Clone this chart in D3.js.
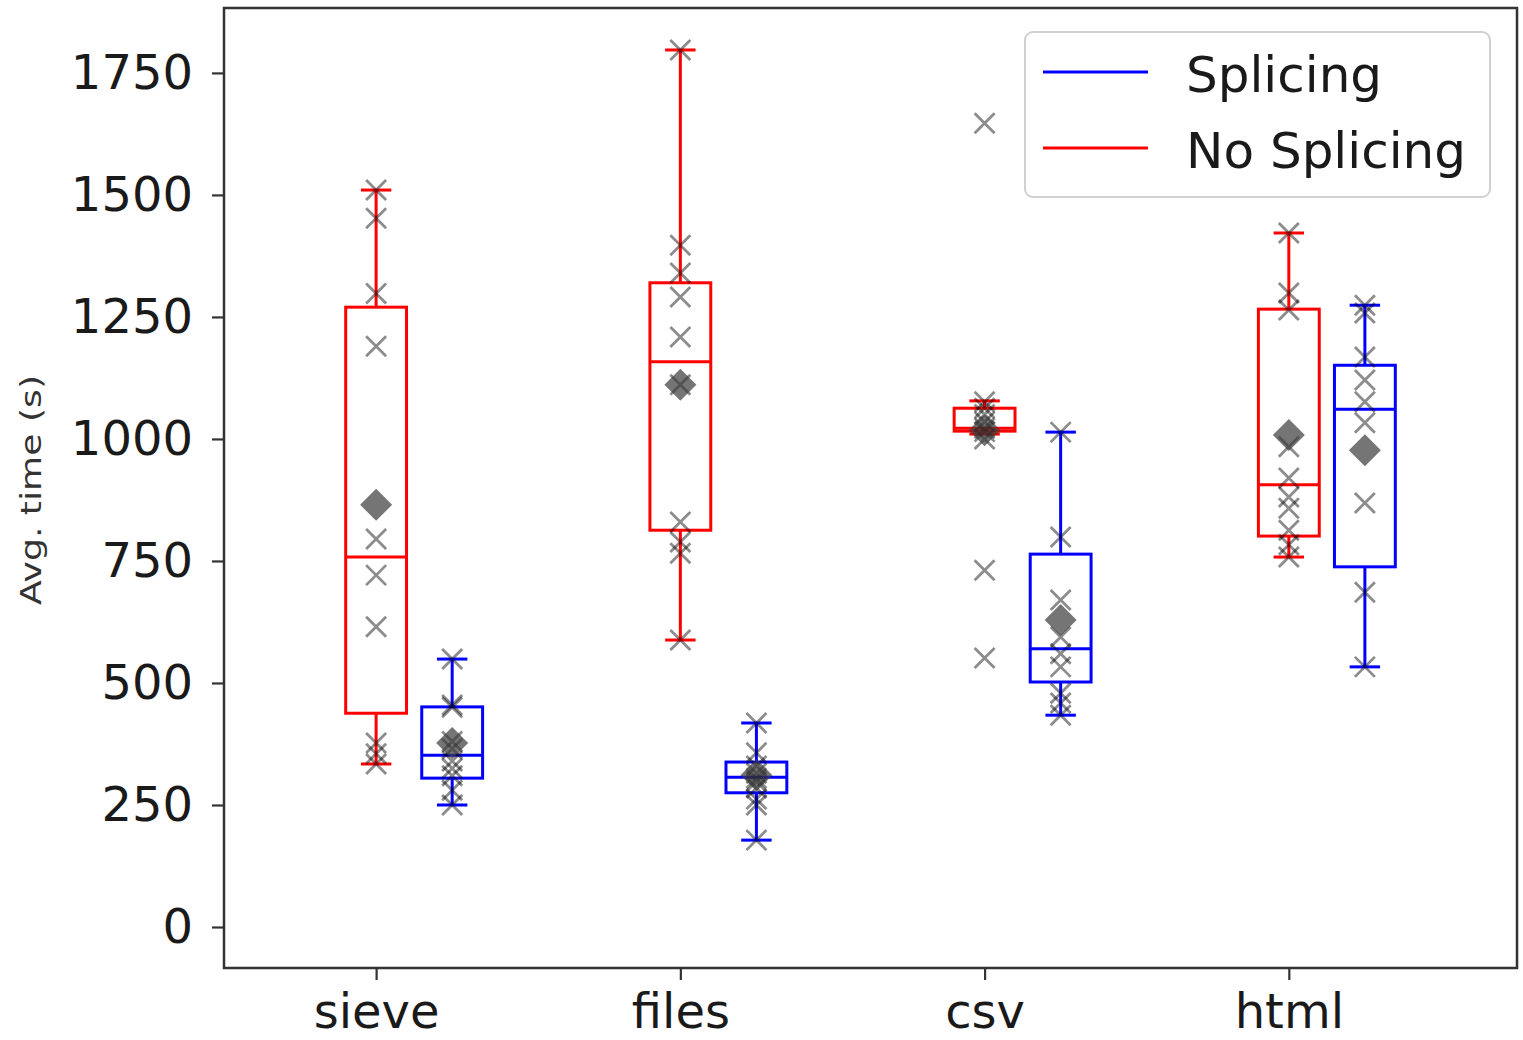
<!DOCTYPE html>
<html>
<head>
<meta charset="utf-8">
<script src="https://cdn.jsdelivr.net/npm/d3@7"></script>
<style>
  html, body { margin: 0; padding: 0; background: #fff; }
  svg { display: block; }
</style>
</head>
<body>
<svg id="chart" width="1523" height="1040"></svg>
<script>
// ---------------- data ----------------
const categories = ["sieve", "files", "csv", "html"];
const seriesNames = ["Splicing", "No Splicing"];
const yTicks = [0, 250, 500, 750, 1000, 1250, 1500, 1750];

// box statistics: [whiskerLow, q1, median, q3, whiskerHigh]
const noSplicingBoxes = [
  [334, 438, 758, 1270, 1510],
  [588, 813, 1158, 1320, 1797],
  [1010, 1016, 1022, 1063, 1078],
  [758, 801, 906, 1266, 1422]
];
const splicingBoxes = [
  [250, 305, 352, 451, 549],
  [178, 275, 307, 338, 418],
  [434, 502, 570, 764, 1014],
  [533, 738, 1061, 1151, 1274]
];
// means (diamonds)
const noSplicingMeans = [865, 1111, 1018, 1008];
const splicingMeans = [377, 311, 629, 977];

// individual runs (x markers)
const noSplicingPoints = [
  [1510, 1452, 1298, 1190, 795, 721, 615, 377, 355, 334],
  [1797, 1397, 1340, 1291, 1209, 1111, 830, 789, 766, 588],
  [1647, 1076, 1063, 1050, 1035, 1022, 1015, 1000, 731, 551],
  [1422, 1299, 1264, 984, 920, 881, 858, 813, 783, 758]
];
const splicingPoints = [
  [549, 455, 450, 380, 365, 340, 325, 310, 280, 250],
  [418, 357, 330, 315, 305, 298, 285, 262, 250, 178],
  [1014, 799, 670, 594, 560, 533, 479, 459, 434],
  [1274, 1258, 1168, 1121, 1076, 1033, 869, 686, 533]
];

// ---------------- layout ----------------
const svg = d3.select("#chart");
const L = 224, R = 1517, T = 8, B = 968;
const font = "DejaVu Sans, sans-serif";

const x = d3.scaleLinear().domain([0.5, 4.75]).range([L, R]);
const y = d3.scaleLinear().domain([-84, 1883]).range([B, T]);

const boxW = x(1.2) - x(1.0);

const groups = [
  { boxes: noSplicingBoxes, means: noSplicingMeans, pts: noSplicingPoints, color: "#ff0000", off: 0 },
  { boxes: splicingBoxes, means: splicingMeans, pts: splicingPoints, color: "#0000ff", off: 0.25 }
];

const plot = svg.append("g");

groups.forEach(g => {
  g.boxes.forEach((b, i) => {
    const cx = x(i + 1 + g.off);
    const [lo, q1, med, q3, hi] = b;
    const bg = plot.append("g").attr("stroke", g.color).attr("stroke-width", 3).attr("fill", "none");
    bg.append("line").attr("x1", cx).attr("x2", cx).attr("y1", y(q3)).attr("y2", y(hi));
    bg.append("line").attr("x1", cx).attr("x2", cx).attr("y1", y(q1)).attr("y2", y(lo));
    bg.append("line").attr("x1", cx - boxW / 4).attr("x2", cx + boxW / 4).attr("y1", y(hi)).attr("y2", y(hi));
    bg.append("line").attr("x1", cx - boxW / 4).attr("x2", cx + boxW / 4).attr("y1", y(lo)).attr("y2", y(lo));
    bg.append("rect").attr("x", cx - boxW / 2).attr("y", y(q3)).attr("width", boxW).attr("height", y(q1) - y(q3));
    bg.append("line").attr("x1", cx - boxW / 2).attr("x2", cx + boxW / 2).attr("y1", y(med)).attr("y2", y(med));
  });
});

// x markers and mean diamonds
const xs = 10;
groups.forEach(g => {
  g.pts.forEach((arr, i) => {
    const cx = x(i + 1 + g.off);
    arr.forEach(v => {
      const cy = y(v);
      plot.append("path")
        .attr("d", `M${cx - xs},${cy - xs}L${cx + xs},${cy + xs}M${cx - xs},${cy + xs}L${cx + xs},${cy - xs}`)
        .attr("stroke", "#000").attr("stroke-opacity", 0.45).attr("stroke-width", 2.8).attr("fill", "none");
    });
  });
  g.means.forEach((m, i) => {
    const cx = x(i + 1 + g.off), cy = y(m), d = 16;
    plot.append("path")
      .attr("d", `M${cx},${cy - d}L${cx + d},${cy}L${cx},${cy + d}L${cx - d},${cy}Z`)
      .attr("fill", "#3a3a3a").attr("fill-opacity", 0.7);
  });
});

// frame
svg.append("rect").attr("x", L).attr("y", T).attr("width", R - L).attr("height", B - T)
  .attr("fill", "none").attr("stroke", "#333").attr("stroke-width", 2.5);

// y axis
const yAxis = svg.append("g").attr("transform", `translate(${L},0)`)
  .call(d3.axisLeft(y).tickValues(yTicks).tickSize(12).tickPadding(19).tickFormat(d3.format("d")));
yAxis.select(".domain").remove();
yAxis.selectAll(".tick line").attr("stroke", "#333").attr("stroke-width", 2.2);
yAxis.selectAll(".tick text").attr("font-family", font).attr("font-size", 48).attr("fill", "#1a1a1a");

// x axis
const xAxis = svg.append("g").attr("transform", `translate(0,${B})`)
  .call(d3.axisBottom(x).tickValues([1, 2, 3, 4]).tickSize(12).tickPadding(14)
    .tickFormat((d, i) => categories[i]));
xAxis.select(".domain").remove();
xAxis.selectAll(".tick line").attr("stroke", "#333").attr("stroke-width", 2.2);
xAxis.selectAll(".tick text").attr("font-family", font).attr("font-size", 48).attr("fill", "#1a1a1a");

// y label
svg.append("text")
  .attr("transform", "translate(41,490) rotate(-90)")
  .attr("text-anchor", "middle")
  .attr("font-family", font).attr("font-size", 28).attr("fill", "#333")
  .attr("textLength", 230).attr("lengthAdjust", "spacingAndGlyphs")
  .text("Avg. time (s)");

// legend
const lg = svg.append("g");
lg.append("rect").attr("x", 1025).attr("y", 32).attr("width", 465).attr("height", 165).attr("rx", 8)
  .attr("fill", "#fff").attr("fill-opacity", 0.85).attr("stroke", "#d0d0d0").attr("stroke-width", 2);
const legendColors = ["#0000ff", "#ff0000"];
seriesNames.forEach((s, i) => {
  const ly = 72 + i * 76;
  lg.append("line").attr("x1", 1043).attr("x2", 1148).attr("y1", ly).attr("y2", ly)
    .attr("stroke", legendColors[i]).attr("stroke-width", 3);
  lg.append("text").attr("x", 1186).attr("y", ly + 20)
    .attr("font-family", font).attr("font-size", 50).attr("fill", "#1a1a1a").text(s);
});
</script>
</body>
</html>
